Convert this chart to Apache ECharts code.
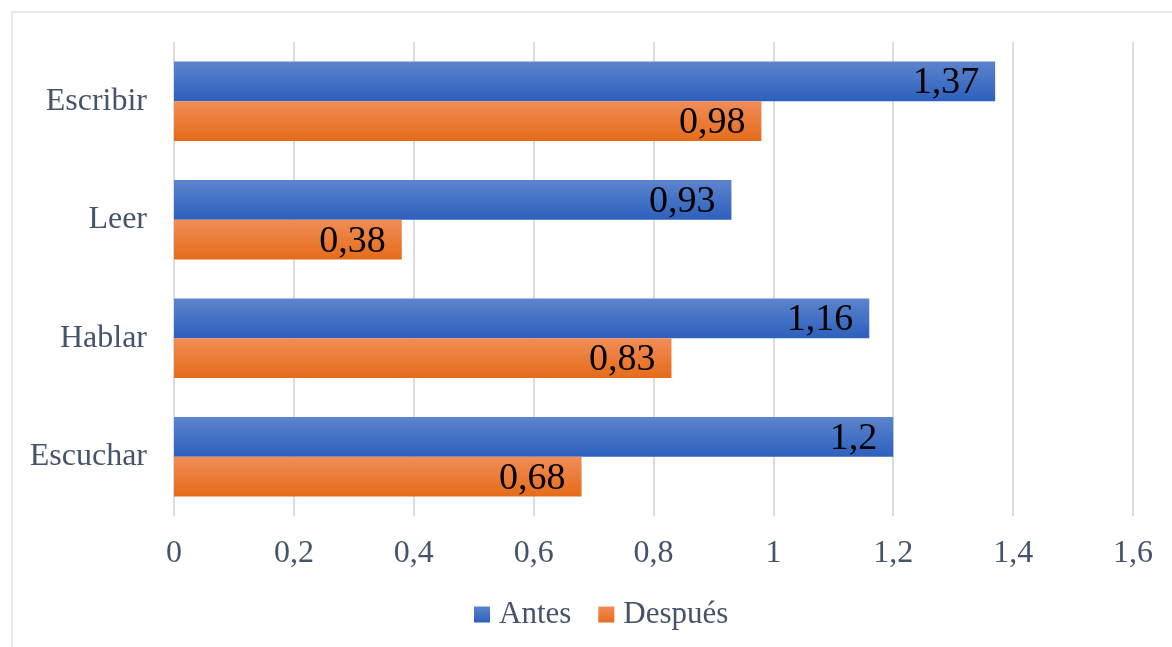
<!DOCTYPE html>
<html>
<head>
<meta charset="utf-8">
<script src="https://cdn.jsdelivr.net/npm/echarts@6/dist/echarts.min.js"></script>
<style>
html,body{margin:0;padding:0;background:#fff;}
#chart{width:1172px;height:647px;}
</style>
</head>
<body>
<div id="chart"></div>
<script>
var categories = ['Escuchar', 'Hablar', 'Leer', 'Escribir'];
var antes = [1.2, 1.16, 0.93, 1.37];
var despues = [0.68, 0.83, 0.38, 0.98];
var seriesNames = ['Antes', 'Después'];

var fontFam = '"Liberation Serif", "Times New Roman", serif';
var txtColor = '#44546a';
function comma(v){ return String(v).replace('.', ','); }

function grad(top, bottom){
  return new echarts.graphic.LinearGradient(0, 0, 0, 1, [
    {offset: 0, color: top}, {offset: 1, color: bottom}
  ]);
}

var chart = echarts.init(document.getElementById('chart'));
var labelCfg = {
  show: true,
  position: 'insideRight',
  distance: 16,
  offset: [0, 2],
  color: '#000',
  fontFamily: fontFam,
  fontSize: 38,
  formatter: function(p){ return comma(p.value); }
};
chart.setOption({
  animation: false,
  graphic: [{
    type: 'rect',
    shape: {x: 12, y: 12, width: 1200, height: 700},
    style: {fill: 'none', stroke: '#dfe3e8', lineWidth: 1.5},
    silent: true
  }],
  grid: {left: 174, right: 39, top: 42, bottom: 131, containLabel: false},
  legend: {
    data: seriesNames,
    bottom: 17,
    left: 474,
    padding: 0,
    itemWidth: 16,
    itemHeight: 16,
    itemGap: 27,
    icon: 'rect',
    textStyle: {fontFamily: fontFam, fontSize: 31, color: txtColor, padding: [0, 0, 0, 4]}
  },
  xAxis: {
    type: 'value',
    min: 0, max: 1.6, interval: 0.2,
    axisLine: {show: false},
    axisTick: {show: false},
    splitLine: {lineStyle: {color: '#d9dde3', width: 2}},
    axisLabel: {
      fontFamily: fontFam, fontSize: 32, color: txtColor, margin: 22,
      formatter: function(v){ return comma(Math.round(v*10)/10); }
    }
  },
  yAxis: {
    type: 'category',
    data: categories,
    axisLine: {show: false},
    axisTick: {show: false},
    axisLabel: {fontFamily: fontFam, fontSize: 32, color: txtColor, margin: 27}
  },
  series: [
    {
      name: seriesNames[0], type: 'bar', data: antes,
      barGap: '0%', barCategoryGap: '33%',
      itemStyle: {color: grad('#5d84cd', '#2c60bd')},
      label: labelCfg
    },
    {
      name: seriesNames[1], type: 'bar', data: despues,
      barGap: '0%', barCategoryGap: '33%',
      itemStyle: {color: grad('#f18d57', '#e56b1a')},
      label: labelCfg
    }
  ]
});
</script>
</body>
</html>
